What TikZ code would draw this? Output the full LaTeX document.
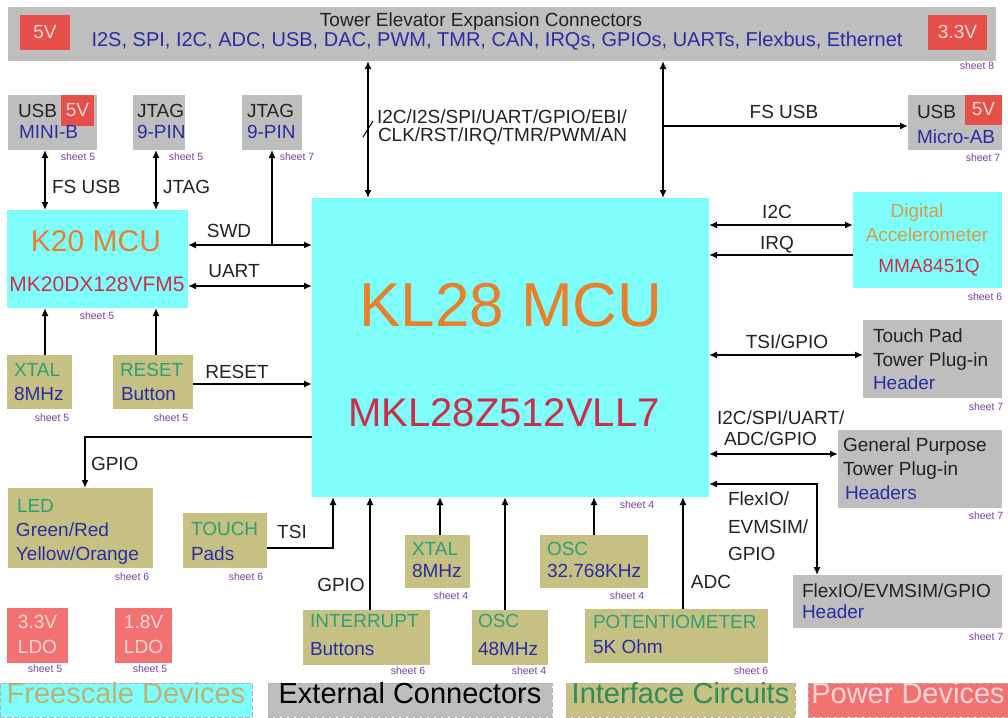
\documentclass[tikz,border=0pt]{standalone}
\usepackage{fontspec}
\setmainfont{Liberation Sans}
\usetikzlibrary{arrows.meta,calc}
\definecolor{cyanb}{HTML}{7FFDFD}
\definecolor{gbox}{HTML}{BEBEBE}
\definecolor{khaki}{HTML}{C6C083}
\definecolor{salmon}{HTML}{F27272}
\definecolor{redb}{HTML}{E5504A}
\definecolor{tealt}{HTML}{2F9F7A}
\definecolor{bluet}{HTML}{2B2BA3}
\definecolor{oranget}{HTML}{E8802A}
\definecolor{redt}{HTML}{CC2F45}
\definecolor{accelt}{HTML}{D89C48}
\definecolor{pinkt}{HTML}{FFD5D5}
\definecolor{sheetc}{HTML}{7A3FA0}
\definecolor{legtan}{HTML}{C2B070}
\definecolor{leggreen}{HTML}{2E8C5A}
\definecolor{darkt}{HTML}{222222}
\newcommand\blk[6]{\node[blkst,fill=#6,minimum width={(#4)-(#2)},minimum height={(#5)-(#3)}] (#1) at (#2,#3) {};}
\begin{document}
\begin{tikzpicture}[x=1pt,y=-1pt,
  blkst/.style={inner sep=0,outer sep=0,anchor=north west,draw=none},
  txt/.style={inner sep=0,outer sep=0,text height=.72em,text depth=0pt,font=\fontsize{19}{19}\selectfont,anchor=west,text=darkt,yshift=-2pt},
  ctxt/.style={txt,anchor=center},
  sh/.style={inner sep=0,font=\fontsize{10.5}{10.5}\selectfont,text=sheetc},
  conn/.style={line width=1.5pt,draw=black},
  >={Latex[length=8pt,width=7pt]},
  leg/.style={blkst,draw=gray!60,dash pattern=on 5pt off 2pt,line width=0.8pt},
  legt/.style={inner sep=0,text height=.72em,text depth=0pt,font=\fontsize{29}{29}\selectfont}]
\useasboundingbox (0,0) rectangle (1008,717);
\fill[white] (0,0) rectangle (1008,717);

% ---------- top bar
\blk{bar}{8}{7}{996}{61}{gbox}
\blk{v5a}{20}{15}{70}{50}{redb}
\node[ctxt,text=pinkt] (v5at) at (v5a) {5V};
\blk{v33}{928}{15}{987}{50}{redb}
\node[ctxt,text=pinkt] (v33t) at (v33) {3.3V};
\node[ctxt] (bart1) at (481,21) {Tower Elevator Expansion Connectors};
\node[ctxt,text=bluet,font=\fontsize{20}{20}\selectfont] (bart2) at (497,41) {I2S, SPI, I2C, ADC, USB, DAC, PWM, TMR, CAN, IRQs, GPIOs, UARTs, Flexbus, Ethernet};
\node[sh] (sh8) at (977,66) {sheet 8};

% ---------- main MCU
\blk{kl}{312}{198}{709}{497}{cyanb}
\node[inner sep=0,text=oranget,font=\fontsize{62}{62}\selectfont] (klt1) at (511,305) {KL28 MCU};
\node[inner sep=0,text=redt,font=\fontsize{40}{40}\selectfont] (klt2) at (504,413) {MKL28Z512VLL7};
\node[sh] (shkl) at (637,505) {sheet 4};

% ---------- top left connectors
\blk{usbm}{8}{95}{97}{150}{gbox}
\blk{usbm5}{61}{95}{94}{126}{redb}
\node[ctxt,text=pinkt] (usbm5t) at (usbm5) {5V};
\node[txt] (usbmt1) at (18,112) {USB};
\node[txt,text=bluet] (usbmt2) at (19,133) {MINI-B};
\node[sh] (shusbm) at (78,157) {sheet 5};

\blk{jtag5}{133}{95}{185}{150}{gbox}
\node[txt] (jtag5t1) at (137,112) {JTAG};
\node[txt,text=bluet] (jtag5t2) at (137,133) {9-PIN};
\node[sh] (shjtag5) at (186,157) {sheet 5};

\blk{jtag7}{242}{95}{302}{150}{gbox}
\node[txt] (jtag7t1) at (247,112) {JTAG};
\node[txt,text=bluet] (jtag7t2) at (247,133) {9-PIN};
\node[sh] (shjtag7) at (297,157) {sheet 7};

% ---------- K20
\blk{k20}{7}{210}{188}{308}{cyanb}
\node[inner sep=0,text=oranget,font=\fontsize{30}{30}\selectfont] (k20t1) at (96,241) {K20 MCU};
\node[inner sep=0,text=redt,font=\fontsize{21}{21}\selectfont] (k20t2) at (97,284) {MK20DX128VFM5};
\node[sh] (shk20) at (97,316) {sheet 5};

\blk{xtal5}{7}{355}{72}{409}{khaki}
\node[txt,text=tealt] (xtal5t1) at (14,371) {XTAL};
\node[txt,text=bluet] (xtal5t2) at (14,395) {8MHz};
\node[sh] (shxtal5) at (52,418) {sheet 5};

\blk{rst}{113}{355}{193}{409}{khaki}
\node[txt,text=tealt] (rstt1) at (120,371) {RESET};
\node[txt,text=bluet] (rstt2) at (121,395) {Button};
\node[sh] (shrst) at (171,418) {sheet 5};

\blk{led}{8}{488}{153}{568}{khaki}
\node[txt,text=tealt] (ledt1) at (17,507) {LED};
\node[txt,text=bluet] (ledt2) at (16,531) {Green/Red};
\node[txt,text=bluet] (ledt3) at (16,555) {Yellow/Orange};
\node[sh] (shled) at (132,577) {sheet 6};

\blk{touch}{183}{513}{267}{568}{khaki}
\node[txt,text=tealt] (toucht1) at (191,530) {TOUCH};
\node[txt,text=bluet] (toucht2) at (191,555) {Pads};
\node[sh] (shtouch) at (246,577) {sheet 6};

\blk{ldo33}{7}{608}{68}{663}{salmon}
\node[ctxt,text=pinkt] (ldo33t1) at (37.5,623) {3.3V};
\node[ctxt,text=pinkt] (ldo33t2) at (37.5,648) {LDO};
\node[sh] (shldo33) at (45,669) {sheet 5};
\blk{ldo18}{115}{608}{172}{663}{salmon}
\node[ctxt,text=pinkt] (ldo18t1) at (143.5,623) {1.8V};
\node[ctxt,text=pinkt] (ldo18t2) at (143.5,648) {LDO};
\node[sh] (shldo18) at (150,669) {sheet 5};

% ---------- bottom row
\blk{intr}{303}{610}{430}{665}{khaki}
\node[txt,text=tealt] (intrt1) at (310,622) {INTERRUPT};
\node[txt,text=bluet] (intrt2) at (310,650) {Buttons};
\node[sh] (shintr) at (408,671) {sheet 6};

\blk{xtal4}{405}{535}{470}{588}{khaki}
\node[txt,text=tealt] (xtal4t1) at (412,550) {XTAL};
\node[txt,text=bluet] (xtal4t2) at (412,572) {8MHz};
\node[sh] (shxtal4) at (451,596) {sheet 4};

\blk{osc48}{472}{610}{548}{665}{khaki}
\node[txt,text=tealt] (osc48t1) at (478,622) {OSC};
\node[txt,text=bluet] (osc48t2) at (478,650) {48MHz};
\node[sh] (shosc48) at (529,671) {sheet 4};

\blk{osc32}{540}{535}{648}{588}{khaki}
\node[txt,text=tealt] (osc32t1) at (547,550) {OSC};
\node[txt,text=bluet] (osc32t2) at (547,572) {32.768KHz};
\node[sh] (shosc32) at (627,596) {sheet 4};

\blk{pot}{585}{609}{768}{663}{khaki}
\node[txt,text=tealt] (pott1) at (593,623) {POTENTIOMETER};
\node[txt,text=bluet] (pott2) at (593,648) {5K Ohm};
\node[sh] (shpot) at (751,671) {sheet 6};

% ---------- right side
\blk{usbab}{908}{95}{1002}{150}{gbox}
\blk{usbab5}{965}{95}{1002}{125}{redb}
\node[ctxt,text=pinkt] (usbab5t) at (usbab5) {5V};
\node[txt] (usbabt1) at (917,113) {USB};
\node[txt,text=bluet] (usbabt2) at (917,138) {Micro-AB};
\node[sh] (shusbab) at (983,158) {sheet 7};

\blk{acc}{853}{192}{1002}{288}{cyanb}
\node[ctxt,text=accelt] (acct1) at (917,212) {Digital};
\node[ctxt,text=accelt] (acct2) at (927,236) {Accelerometer};
\node[ctxt,text=redt] (acct3) at (929,267) {MMA8451Q};
\node[sh] (shacc) at (985,297) {sheet 6};

\blk{tpad}{863}{320}{1002}{398}{gbox}
\node[txt] (tpadt1) at (873,337) {Touch Pad};
\node[txt] (tpadt2) at (873,361) {Tower Plug-in};
\node[txt,text=bluet] (tpadt3) at (873,384) {Header};
\node[sh] (shtpad) at (986,407) {sheet 7};

\blk{gp}{838}{430}{1002}{508}{gbox}
\node[txt] (gpt1) at (843,446) {General Purpose};
\node[txt] (gpt2) at (843,470) {Tower Plug-in};
\node[txt,text=bluet] (gpt3) at (845,494) {Headers};
\node[sh] (shgp) at (986,516) {sheet 7};

\blk{flex}{793}{575}{1002}{628}{gbox}
\node[txt] (flext1) at (802,592) {FlexIO/EVMSIM/GPIO};
\node[txt,text=bluet] (flext2) at (802,613) {Header};
\node[sh] (shflex) at (986,637) {sheet 7};

% ---------- connectors
% top verticals
\draw[conn,<->] ([xshift=360pt]bar.south west) -- ([xshift=56pt]kl.north west);
\coordinate (tick) at (368,129);
\draw[line width=1pt] ([shift={(-5pt,-8pt)}]tick) -- ([shift={(5pt,8pt)}]tick);
\node[txt] (busl1) at (377,118) {I2C/I2S/SPI/UART/GPIO/EBI/};
\node[txt] (busl2) at (378,136) {CLK/RST/IRQ/TMR/PWM/AN};
\draw[conn,<->] ([xshift=655pt]bar.south west) -- ([xshift=351pt]kl.north west);
\coordinate (fsj) at (663,126);
\draw[conn,->] (fsj) -- (fsj -| usbab.west);
\node[ctxt] (fsusbr) at (784,113) {FS USB};

% left
\draw[conn,<->] ([xshift=37pt]usbm.south west) -- ([xshift=38pt]k20.north west);
\node[txt] (fsusbl) at (52,188) {FS USB};
\draw[conn,<->] ([xshift=23pt]jtag5.south west) -- ([xshift=149pt]k20.north west);
\node[txt] (jtagl) at (163,188) {JTAG};
\draw[conn,<->] ([yshift=14pt]k20.east) coordinate (swdl) -- (swdl -| kl.west);
\draw[conn,->] (jtag7.south |- swdl) -- (jtag7.south);
\node[ctxt] (swdt) at (229,232) {SWD};
\draw[conn,<->] ([yshift=-27pt]k20.east) coordinate (uartl) -- (uartl -| kl.west);
\node[ctxt] (uartt) at (234,272) {UART};
\draw[conn,->] ([xshift=38pt]xtal5.north west) -- ([xshift=38pt]k20.south west);
\draw[conn,->] ([xshift=43pt]rst.north west) -- ([xshift=149pt]k20.south west);
\draw[conn,->] ([yshift=-2pt]rst.east) coordinate (rstl) -- (rstl -| kl.west);
\node[ctxt] (rstlab) at (237,373) {RESET};
\draw[conn,->] ([yshift=-89.5pt]kl.west) -| ([xshift=77pt]led.north west);
\node[txt] (gpioled) at (91,465) {GPIO};
\draw[conn,->] ([yshift=-7.5pt]touch.east) -| ([xshift=21pt]kl.south west);
\node[ctxt] (tsit) at (292,533) {TSI};

% bottom
\draw[conn,->] ([xshift=67pt]intr.north west) -- ([xshift=58pt]kl.south west);
\node[ctxt] (gpiob) at (341,586) {GPIO};
\draw[conn,->] ([xshift=35pt]xtal4.north west) -- ([xshift=128pt]kl.south west);
\draw[conn,->] ([xshift=33pt]osc48.north west) -- ([xshift=193pt]kl.south west);
\draw[conn,->] ([xshift=54pt]osc32.north west) -- ([xshift=282pt]kl.south west);
\draw[conn,->] ([xshift=98pt]pot.north west) -- ([xshift=371pt]kl.south west);
\node[ctxt] (adct) at (711,583) {ADC};

% right
\draw[conn,<->] ([yshift=122.5pt]kl.east) coordinate (i2cl) -- (i2cl -| acc.west);
\node[ctxt] (i2ct) at (777,213) {I2C};
\draw[conn,<-] ([yshift=92.5pt]kl.east) coordinate (irql) -- (irql -| acc.west);
\node[ctxt] (irqt) at (777,244) {IRQ};
\draw[conn,<->] ([yshift=-7.5pt]kl.east) coordinate (tsil) -- (tsil -| tpad.west);
\node[ctxt] (tsigp) at (787,343) {TSI/GPIO};
\draw[conn,<->] ([yshift=-106.5pt]kl.east) coordinate (gpl) -- (gpl -| gp.west);
\node[txt] (gpl1) at (717,419) {I2C/SPI/UART/};
\node[txt] (gpl2) at (724,440) {ADC/GPIO};
\draw[conn,<->] ([yshift=-136.5pt]kl.east) -| ([xshift=24pt]flex.north west);
\node[txt] (fl1) at (728,500) {FlexIO/};
\node[txt] (fl2) at (728,528) {EVMSIM/};
\node[txt] (fl3) at (728,555) {GPIO};

% ---------- legend
\node[leg,fill=cyanb,minimum width=252,minimum height=34] (lg1) at (0,683) {};
\node[legt,text=legtan] (lg1t) at (lg1) {Freescale Devices};
\node[leg,fill=gbox,minimum width=284,minimum height=34] (lg2) at (268,683) {};
\node[legt,text=black] (lg2t) at (lg2) {External Connectors};
\node[leg,fill=khaki,minimum width=229,minimum height=34] (lg3) at (566,683) {};
\node[legt,text=leggreen] (lg3t) at (lg3) {Interface Circuits};
\node[leg,fill=salmon,minimum width=200,minimum height=34] (lg4) at (808,683) {};
\node[legt,text=pinkt] (lg4t) at (lg4) {Power Devices};
\end{tikzpicture}
\end{document}
